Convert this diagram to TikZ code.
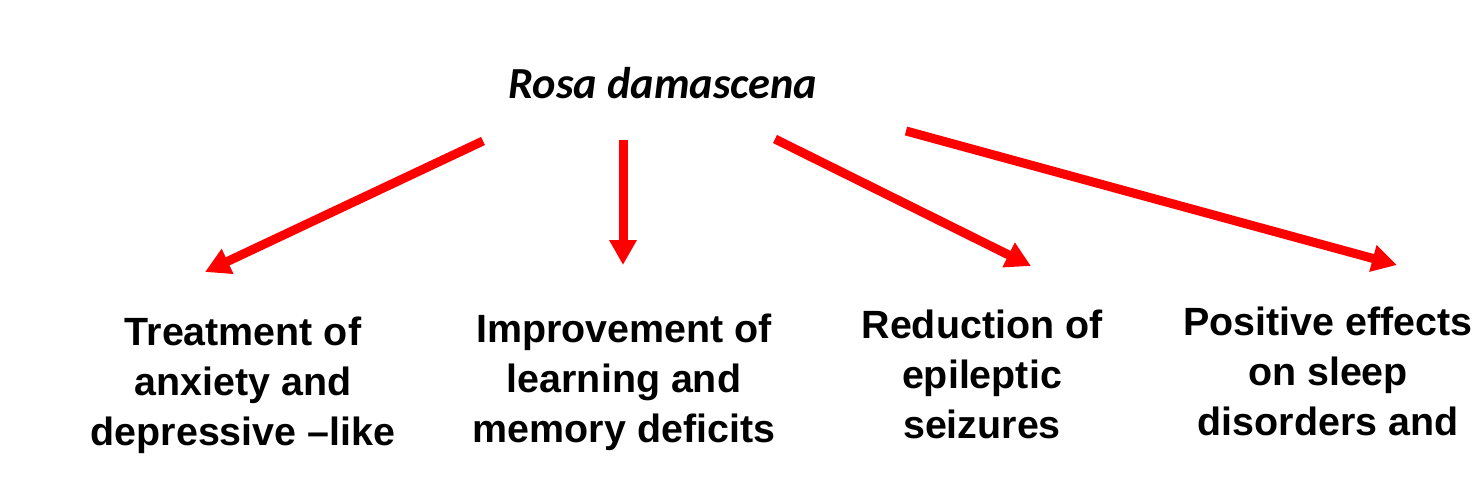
\documentclass[tikz,border=0pt]{standalone}
\usepackage{fontspec}
\setmainfont{Liberation Sans}
\newfontfamily\titlefont{Carlito}
\usetikzlibrary{arrows.meta}
\begin{document}
\begin{tikzpicture}[x=0.5pt,y=-0.5pt,
  effect/.style={font=\fontsize{19.7pt}{25pt}\selectfont\bfseries, align=center, inner sep=0pt},
  redarrow/.style={draw=red, line width=4.5pt, -{Triangle[length=12.5pt,width=13pt]}}]
\useasboundingbox (0,0) rectangle (1479,477);
\node[font=\titlefont\fontsize{22.2pt}{26pt}\selectfont\bfseries\itshape, inner sep=0pt] (title) at (663,83) {Rosa damascena};
\node[effect] (e1) at (243,385) {Treatment of\\anxiety and\\depressive –like};
\node[effect] (e2) at (624,382) {Improvement of\\learning and\\memory deficits};
\node[effect] (e3) at (982,374) {Reduction of\\epileptic\\seizures};
\node[effect] (e4) at (1328,371) {Positive effects\\on sleep\\disorders and};
\coordinate (s1) at (483,141); \coordinate (t1) at (205,272);
\coordinate (s2) at (623,140); \coordinate (t2) at (623,265);
\coordinate (s3) at (775,139); \coordinate (t3) at (1031,266);
\coordinate (s4) at (906,131); \coordinate (t4) at (1397,265);
\draw[redarrow] (s1) -- (t1);
\draw[redarrow] (s2) -- (t2);
\draw[redarrow] (s3) -- (t3);
\draw[redarrow] (s4) -- (t4);
\end{tikzpicture}
\end{document}
